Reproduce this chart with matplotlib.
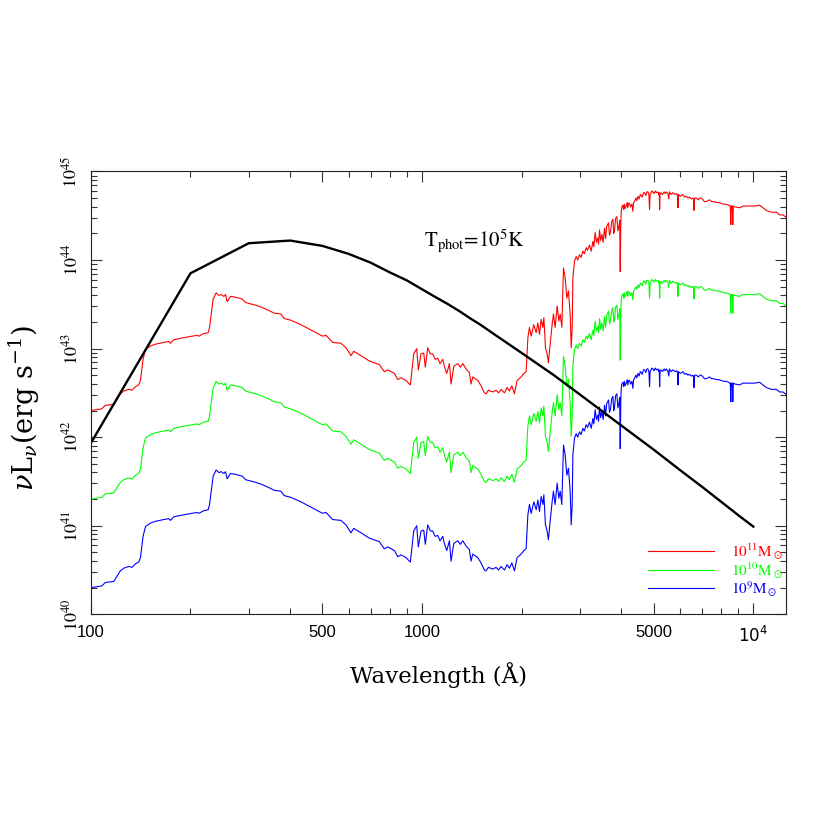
import numpy as np
import matplotlib
matplotlib.use('Agg')
import matplotlib.pyplot as plt
from matplotlib.ticker import FixedLocator, FixedFormatter, NullFormatter
from matplotlib.lines import Line2D

plt.rcParams['mathtext.fontset'] = 'stix'
plt.rcParams['font.family'] = ['STIXGeneral', 'DejaVu Serif']

# Blackbody, T_phot = 1e5 K  (log10 nuL_nu)
bb_wave = [100, 200, 300, 400, 500, 600, 700, 800, 900, 1000, 1100, 1200, 1300, 1400,
           1500, 1700, 2000, 2500, 3000, 4000, 5000, 6000, 7000, 8000, 9000, 10000]
bb_lognuLnu = [41.93, 43.85, 44.19, 44.22, 44.16, 44.07, 43.97, 43.86, 43.77, 43.67,
               43.58, 43.50, 43.42, 43.34, 43.27, 43.13, 42.95, 42.70, 42.48, 42.13,
               41.86, 41.63, 41.44, 41.27, 41.12, 40.99]

# Galaxy SED for 1e11 Msun (log10 nuL_nu)
sed_wave = [
    100, 108, 110.8, 117.3, 122.9, 125.8, 130.2, 133.3, 136.5, 139.6, 141.3, 143.9, 146.3,
    151.5, 156.9, 166.2, 172.1, 174.1, 178.1, 188.7, 202.3, 209.5, 212.0, 219.5, 226.2,
    228.4, 234.2, 239.1, 243.6, 247.6, 252.2, 255.2, 258.1, 264.3, 273.7, 286.5, 293.4,
    314.6, 326.4, 345.1, 357.9, 375.0, 383.7, 402.0, 430.9, 462.0, 489.5, 501, 512.9,
    537.3, 569.3, 589.4, 610.3, 621.9, 654.3, 693.2, 743.0, 769.3, 788.0, 825.1, 844.9,
    864.5, 894.9, 915.5, 922.1, 943.9, 963.8, 974.6, 993.1, 1011.8, 1023.2, 1040.4,
    1059.4, 1077.2, 1094.7, 1115.4, 1133.5, 1154.9, 1168.0, 1187.6, 1209.4, 1223.7,
    1247.0, 1281.9, 1305.5, 1327.6, 1358.2, 1389.8, 1406.0, 1423.0, 1473.4, 1507.4,
    1542.5, 1561.0, 1586.1, 1635.5, 1673.6, 1700.4, 1732.8, 1772.9, 1806.6, 1835.5,
    1866.6, 1900.9, 1936.6, 1991.3, 2029.3, 2062.0, 2086.4, 2110, 2135, 2175, 2211,
    2237, 2262, 2289, 2316, 2332, 2358, 2386, 2407, 2436, 2470, 2493, 2522, 2558, 2588,
    2612, 2642, 2673, 2704, 2736, 2767, 2800, 2820, 2840, 2853, 2886, 2920, 2950, 2988,
    3020, 3059, 3090, 3130, 3160, 3202, 3241, 3279, 3300, 3332, 3360, 3395, 3410, 3434,
    3460, 3491, 3520, 3556, 3580, 3610, 3656, 3680, 3707, 3740, 3769, 3790, 3811, 3840,
    3875, 3900, 3930, 3950, 3965, 3980, 3993, 4010, 4040, 4060, 4080, 4100, 4134, 4160,
    4180, 4200, 4229, 4260, 4300, 4330, 4350, 4379, 4420, 4450, 4484, 4520, 4560, 4588,
    4620, 4660, 4695, 4740, 4770, 4807, 4840, 4861, 4880, 4900, 4940, 4977, 5020, 5060,
    5100, 5152, 5180, 5200, 5215, 5230, 5270, 5320, 5380, 5420, 5460, 5520, 5560, 5580,
    5650, 5720, 5800, 5880, 5905, 5922, 5945, 6020, 6080, 6131, 6200, 6280, 6349, 6420,
    6500, 6574, 6600, 6620, 6650, 6727, 6820, 6900, 6966, 7050, 7120, 7211, 7300, 7379,
    7480, 7600, 7731, 7850, 8006, 8150, 8289, 8420, 8500, 8520, 8550, 8580, 8640, 8670,
    8700, 8800, 9093, 9308, 9638, 10090, 10447, 10698, 10946, 11334, 11736, 12010,
    12294, 12580, 12760]
sed_lognuLnu = [
    42.30, 42.32, 42.36, 42.37, 42.49, 42.52, 42.54, 42.53, 42.57, 42.59, 42.64, 42.88, 42.99,
    43.03, 43.05, 43.07, 43.08, 43.06, 43.10, 43.12, 43.14, 43.15, 43.14, 43.17, 43.18,
    43.24, 43.56, 43.63, 43.60, 43.61, 43.59, 43.61, 43.53, 43.59, 43.58, 43.56, 43.52,
    43.49, 43.47, 43.43, 43.40, 43.39, 43.34, 43.32, 43.27, 43.21, 43.16, 43.14, 43.15,
    43.07, 43.06, 43.01, 42.92, 42.97, 42.92, 42.86, 42.82, 42.74, 42.76, 42.72, 42.65,
    42.67, 42.64, 42.60, 42.59, 42.94, 43.00, 42.76, 42.94, 42.95, 42.79, 43.01,
    42.94, 42.94, 42.88, 42.89, 42.83, 42.88, 42.80, 42.72, 42.83, 42.60,
    42.80, 42.83, 42.79, 42.83, 42.77, 42.73, 42.60, 42.68, 42.64, 42.58,
    42.50, 42.49, 42.53, 42.51, 42.53, 42.50, 42.54, 42.50, 42.56, 42.52,
    42.58, 42.49, 42.64, 42.68, 42.72, 42.74, 43.12, 43.24, 43.14, 43.27, 43.18,
    43.29, 43.16, 43.33, 43.24, 43.35, 43.01, 42.94, 42.84, 43.05, 43.27, 43.39, 43.24, 43.48, 43.31,
    43.39, 43.24, 43.91, 43.80, 43.57, 43.65, 43.39, 43.01, 43.24, 43.80, 43.99, 44.04, 44.00, 44.06,
    44.03, 44.10, 44.07, 44.14, 44.11, 44.17, 44.10, 44.21, 44.15, 44.31, 44.20, 44.25, 44.18, 44.34,
    44.22, 44.29, 44.20, 44.36, 44.24, 44.38, 44.42, 44.28, 44.32, 44.44, 44.46, 44.30, 44.34, 44.47,
    44.49, 44.33, 44.38, 44.45, 43.87, 44.40, 44.55, 44.60, 44.62, 44.57, 44.63, 44.58, 44.61, 44.65,
    44.59, 44.64, 44.64, 44.60, 44.63, 44.55, 44.65, 44.66, 44.70, 44.67, 44.72, 44.69, 44.74, 44.73,
    44.71, 44.76, 44.76, 44.73, 44.77, 44.77, 44.74, 44.57, 44.74, 44.75, 44.78, 44.77, 44.75, 44.78,
    44.76, 44.77, 44.74, 44.76, 44.57, 44.75, 44.76, 44.74, 44.77, 44.75, 44.77, 44.75, 44.69, 44.77,
    44.74, 44.76, 44.74, 44.75, 44.72, 44.59, 44.74, 44.72, 44.73, 44.74, 44.71, 44.72, 44.70, 44.71,
    44.69, 44.70, 44.68, 44.56, 44.70, 44.70, 44.68, 44.70, 44.70, 44.68, 44.66, 44.66, 44.67, 44.68,
    44.66, 44.66, 44.65, 44.65, 44.64, 44.63, 44.63, 44.62, 44.61, 44.61, 44.40, 44.61, 44.61, 44.40,
    44.61, 44.60, 44.59, 44.61, 44.61, 44.61, 44.62, 44.59, 44.56, 44.54, 44.54, 44.51,
    44.51, 44.48, 44.47]

masses = [1e11, 1e10, 1e9]
mass_labels = [r'10$^{11}$M$_\odot$', r'10$^{10}$M$_\odot$', r'10$^{9}$M$_\odot$']
colors = ['#ff0000', '#00ff00', '#0000ff']

xtick_values = [100, 500, 1000, 5000, 10000]
xtick_labels = ['100', '500', '1000', '5000', r'$10^4$']
ytick_values = [1e40, 1e41, 1e42, 1e43, 1e44, 1e45]
ytick_labels = [r'$10^{40}$', r'$10^{41}$', r'$10^{42}$', r'$10^{43}$', r'$10^{44}$', r'$10^{45}$']

fig = plt.figure(figsize=(8.3, 8.3), dpi=100)
ax = fig.add_axes([0.1093, 0.2599, 0.8377, 0.5335])
ax.set_xscale('log')
ax.set_yscale('log')

sw = np.array(sed_wave)
sl = np.array(sed_lognuLnu)
for m, c in zip(masses, colors):
    ax.plot(sw, 10 ** sl * (m / 1e11), color=c, lw=0.8)

ax.plot(bb_wave, 10 ** np.array(bb_lognuLnu), color='black', lw=1.7)

ax.set_xlim(100, 12550)
ax.set_ylim(1e40, 1e45)

ax.xaxis.set_major_locator(FixedLocator(xtick_values))
ax.xaxis.set_major_formatter(FixedFormatter(xtick_labels))
xminor = [v * b for b in (100, 1000) for v in (2, 3, 4, 6, 7, 8, 9)]
ax.xaxis.set_minor_locator(FixedLocator(xminor))
ax.xaxis.set_minor_formatter(NullFormatter())

ax.yaxis.set_major_locator(FixedLocator(ytick_values))
ax.yaxis.set_major_formatter(FixedFormatter(ytick_labels))
yminor = [v * 10.0 ** e for e in range(40, 45) for v in range(2, 10)]
ax.yaxis.set_minor_locator(FixedLocator(yminor))
ax.yaxis.set_minor_formatter(NullFormatter())

ax.tick_params(which='both', direction='in', top=True, right=True, width=0.8, color='#333333')
ax.tick_params(which='major', length=8)
ax.tick_params(which='minor', length=4.5)
ax.tick_params(axis='x', which='major', pad=8)
ax.tick_params(axis='y', which='major', pad=7)
for lab in ax.get_xticklabels():
    lab.set_fontfamily('Liberation Sans')
    lab.set_fontsize(12)
    lab.set_math_fontfamily('dejavusans')
for lab in ax.get_yticklabels():
    lab.set_fontsize(13)
    lab.set_rotation(90)
    lab.set_va('center')
for s in ax.spines.values():
    s.set_linewidth(0.8)
    s.set_color('#222222')

ax.set_xlabel('Wavelength (Å)', fontsize=16.5, labelpad=12, fontfamily='DejaVu Serif')
ax.set_ylabel(r'$\nu$L$_\nu$(erg s$^{-1}$)', fontsize=19.5, fontfamily='DejaVu Serif',
              math_fontfamily='dejavuserif')
ax.yaxis.set_label_coords(-0.070, 0.465)

ax.text(1436, 10 ** 44.22, r'T$_{\rm phot}$=10$^5$K', fontsize=15, ha='center', va='center')

handles = [Line2D([0], [0], color=c, lw=0.8) for c in colors]
leg = ax.legend(handles, mass_labels, loc='lower right', bbox_to_anchor=(0.996, 0.035),
                frameon=False, fontsize=11, handlelength=4.3, handletextpad=1.15,
                labelspacing=-0.1, borderpad=0, borderaxespad=0, labelcolor=colors)

fig.savefig('out.png', dpi=100)
